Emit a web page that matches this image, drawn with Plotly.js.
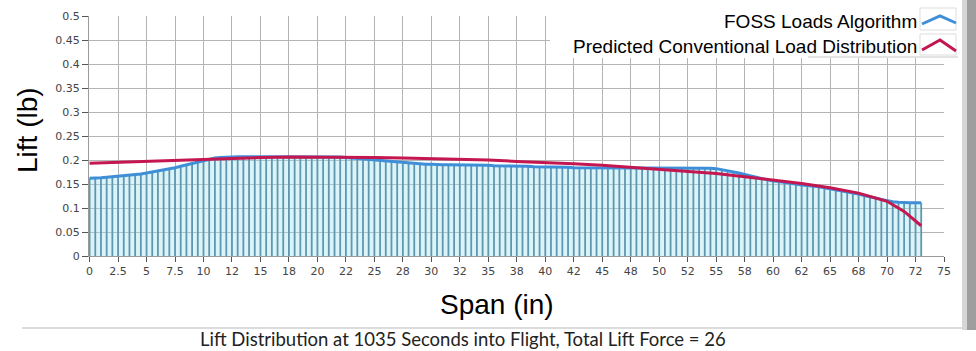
<!DOCTYPE html>
<html>
<head>
<meta charset="utf-8">
<script src="https://cdn.plot.ly/plotly-3.0.1.min.js"></script>
<style>html,body{margin:0;padding:0;background:#fff;}#chart{width:976px;height:351px;}</style>
</head>
<body>
<div id="chart"></div>
<script>
// Span stations (in) of the FOSS sensor stems
var spanIn = [0,0.5,1,1.5,2,2.5,3,3.5,4,4.5,5,5.5,6,6.5,7,7.5,8,8.5,9,9.5,10,10.5,11,11.5,12,12.5,13,13.5,14,14.5,15,15.5,16,16.5,17,17.5,18,18.5,19,19.5,20,20.5,21,21.5,22,22.5,23,23.5,24,24.5,25,25.5,26,26.5,27,27.5,28,28.5,29,29.5,30,30.5,31,31.5,32,32.5,33,33.5,34,34.5,35,35.5,36,36.5,37,37.5,38,38.5,39,39.5,40,40.5,41,41.5,42,42.5,43,43.5,44,44.5,45,45.5,46,46.5,47,47.5,48,48.5,49,49.5,50,50.5,51,51.5,52,52.5,53,53.5,54,54.5,55,55.5,56,56.5,57,57.5,58,58.5,59,59.5,60,60.5,61,61.5,62,62.5,63,63.5,64,64.5,65,65.5,66,66.5,67,67.5,68,68.5,69,69.5,70,70.5,71,71.5,72,72.5,73];
// FOSS Loads Algorithm lift (lb)
var fossLift = [
0.162,0.162,0.163,0.164,0.165,0.166,0.167,0.168,0.170,0.171,
0.173,0.175,0.177,0.179,0.181,0.184,0.187,0.190,0.193,0.196,
0.199,0.202,0.204,0.205,0.206,0.206,0.207,0.207,0.207,0.207,
0.207,0.207,0.207,0.207,0.207,0.207,0.207,0.207,0.207,0.207,
0.207,0.207,0.206,0.206,0.206,0.205,0.204,0.203,0.202,0.201,
0.200,0.198,0.197,0.196,0.195,0.194,0.193,0.192,0.191,0.191,
0.191,0.190,0.190,0.190,0.190,0.190,0.189,0.189,0.189,0.189,
0.189,0.188,0.188,0.188,0.188,0.187,0.187,0.187,0.186,0.186,
0.186,0.186,0.185,0.185,0.185,0.184,0.184,0.184,0.183,0.183,
0.183,0.183,0.183,0.183,0.183,0.183,0.183,0.183,0.183,0.183,
0.183,0.183,0.183,0.183,0.184,0.184,0.184,0.184,0.184,0.183,
0.182,0.180,0.178,0.176,0.173,0.170,0.167,0.164,0.161,0.158,
0.156,0.155,0.153,0.152,0.150,0.148,0.147,0.146,0.144,0.142,
0.140,0.138,0.136,0.134,0.131,0.129,0.126,0.124,0.121,0.118,
0.115,0.113,0.112,0.111,0.111,0.111,0.111];
// Predicted Conventional Load Distribution
var predSpan = [0,2.5,5,7.5,10,12.5,15,17.5,20,22.5,25,27.5,30,32.5,35,37.5,40,42.5,45,47.5,50,52.5,55,57.5,60,62.5,65,67.5,70,71.5,73];
var predLift = [0.193,0.195,0.197,0.199,0.202,0.204,0.205,0.206,0.206,0.206,0.205,0.204,0.203,0.201,0.200,0.197,0.195,0.192,0.189,0.185,0.180,0.176,0.172,0.165,0.158,0.151,0.142,0.131,0.114,0.093,0.063];
// Tick labels
var xTickVals = [0,2.5,5,7.5,10,12.5,15,17.5,20,22.5,25,27.5,30,32.5,35,37.5,40,42.5,45,47.5,50,52.5,55,57.5,60,62.5,65,67.5,70,72.5,75];
var xTickText = ['0','2.5','5','7.5','10','12','15','18','20','22','25','28','30','32','35','38','40','42','45','48','50','52','55','58','60','62','65','68','70','72','75'];
var yTickVals = [0,0.05,0.1,0.15,0.2,0.25,0.3,0.35,0.4,0.45,0.5];
var yTickText = ['0','0.05','0.1','0.15','0.2','0.25','0.3','0.35','0.4','0.45','0.5'];
var seriesNames = ['FOSS Loads Algorithm','Predicted Conventional Load Distribution'];
var xTitle = 'Span (in)';
var yTitle = 'Lift (lb)';
var caption = 'Lift Distribution at 1035 Seconds into Flight, Total Lift Force = 26';

// stems built from data
var stemX = [], stemY = [];
for (var i = 0; i < spanIn.length; i++) {
  stemX.push(spanIn[i], spanIn[i], null);
  stemY.push(0, fossLift[i], null);
}

var L = 89, R = 32, T = 16, B = 95, W = 976, H = 351;
var pw = W - L - R, ph = H - T - B;
function px(x){ return (x - L) / pw; }
function py(y){ return (H - B - y) / ph; }

var traces = [
  {x: spanIn, y: fossLift, type: 'scatter', mode: 'lines', fill: 'tozeroy',
   fillcolor: 'rgba(160,226,240,0.38)', line: {width: 0, color: 'rgba(0,0,0,0)'}, hoverinfo: 'skip', showlegend: false},
  {x: stemX, y: stemY, type: 'scatter', mode: 'lines', line: {color: '#5f97b0', width: 1.8},
   hoverinfo: 'skip', showlegend: false},
  {x: spanIn, y: fossLift, type: 'scatter', mode: 'lines', name: seriesNames[0],
   line: {color: '#3f8fd8', width: 3}, showlegend: false},
  {x: predSpan, y: predLift, type: 'scatter', mode: 'lines', name: seriesNames[1],
   line: {color: '#c4174f', width: 3}, showlegend: false}
];

var tickFont = {family: 'DejaVu Sans', size: 11, color: '#444'};
var layout = {
  width: W, height: H,
  margin: {l: L, r: R, t: T, b: B, pad: 0},
  paper_bgcolor: '#ffffff', plot_bgcolor: '#ffffff',
  showlegend: false,
  xaxis: {range: [-0.05, 75], tickmode: 'array', tickvals: xTickVals, ticktext: xTickText,
          showgrid: true, gridcolor: '#b4b4b4', gridwidth: 1, zeroline: false,
          showline: true, linecolor: '#9a9a9a', linewidth: 1,
          ticks: 'outside', ticklen: 5, tickcolor: '#555', tickfont: tickFont, fixedrange: true},
  yaxis: {range: [0, 0.5], tickmode: 'array', tickvals: yTickVals, ticktext: yTickText,
          showgrid: true, gridcolor: '#b4b4b4', gridwidth: 1, zeroline: false,
          showline: true, linecolor: '#9a9a9a', linewidth: 1,
          ticks: 'outside', ticklen: 6, tickcolor: '#555', tickfont: tickFont, fixedrange: true},
  shapes: [
    // legend background
    {type: 'rect', xref: 'paper', yref: 'paper', x0: px(550), x1: px(960), y0: py(58), y1: py(0),
     fillcolor: '#ffffff', line: {width: 0}, layer: 'above'},
    {type: 'line', xref: 'paper', yref: 'paper', x0: px(808), x1: px(958), y0: py(57), y1: py(57),
     line: {color: '#c8c8c8', width: 1}, layer: 'above'},
    // legend icon boxes
    {type: 'rect', xref: 'paper', yref: 'paper', x0: px(920), x1: px(956), y0: py(30), y1: py(8),
     fillcolor: 'rgba(0,0,0,0)', line: {color: '#dddddd', width: 1}, layer: 'above'},
    {type: 'rect', xref: 'paper', yref: 'paper', x0: px(920), x1: px(956), y0: py(55), y1: py(34),
     fillcolor: 'rgba(0,0,0,0)', line: {color: '#dddddd', width: 1}, layer: 'above'},
    // legend icons
    {type: 'path', xref: 'paper', yref: 'paper', layer: 'above',
     path: 'M ' + px(922) + ' ' + py(24) + ' L ' + px(940) + ' ' + py(16) + ' L ' + px(956) + ' ' + py(23),
     line: {color: '#3f8fd8', width: 3}},
    {type: 'path', xref: 'paper', yref: 'paper', layer: 'above',
     path: 'M ' + px(922) + ' ' + py(50) + ' L ' + px(940) + ' ' + py(40) + ' L ' + px(956) + ' ' + py(51),
     line: {color: '#c4174f', width: 3}},
    // right-hand window shadow
    {type: 'rect', xref: 'paper', yref: 'paper', x0: px(962), x1: px(967), y0: py(330), y1: py(0),
     fillcolor: '#d6d6d6', line: {width: 0}, layer: 'above'},
    {type: 'rect', xref: 'paper', yref: 'paper', x0: px(967), x1: px(976), y0: py(330), y1: py(0),
     fillcolor: '#9e9e9e', line: {width: 0}, layer: 'above'},
    // caption separator
    {type: 'line', xref: 'paper', yref: 'paper', x0: px(22), x1: px(962), y0: py(328), y1: py(328),
     line: {color: '#dcdcdc', width: 2}, layer: 'above'}
  ],
  annotations: [
    {text: yTitle, xref: 'paper', yref: 'paper', x: px(27), y: py(130), textangle: -90,
     showarrow: false, xanchor: 'center', yanchor: 'middle',
     font: {family: 'Liberation Sans, Arial', size: 28, color: '#000'}},
    {text: xTitle, xref: 'paper', yref: 'paper', x: px(497), y: py(304),
     showarrow: false, xanchor: 'center', yanchor: 'middle',
     font: {family: 'Liberation Sans, Arial', size: 28, color: '#000'}},
    {text: caption, xref: 'paper', yref: 'paper', x: px(463), y: py(338.5),
     showarrow: false, xanchor: 'center', yanchor: 'middle', borderpad: 0,
     font: {family: 'Lato, Open Sans', size: 18.5, color: '#222'}},
    {text: seriesNames[0], xref: 'paper', yref: 'paper', x: px(919), y: py(21),
     showarrow: false, xanchor: 'right', yanchor: 'middle',
     font: {family: 'Liberation Sans, Arial', size: 19, color: '#000'}},
    {text: seriesNames[1], xref: 'paper', yref: 'paper', x: px(919), y: py(46),
     showarrow: false, xanchor: 'right', yanchor: 'middle',
     font: {family: 'Liberation Sans, Arial', size: 19, color: '#000'}}
  ]
};

Plotly.newPlot('chart', traces, layout, {displayModeBar: false, staticPlot: true});
</script>
</body>
</html>
